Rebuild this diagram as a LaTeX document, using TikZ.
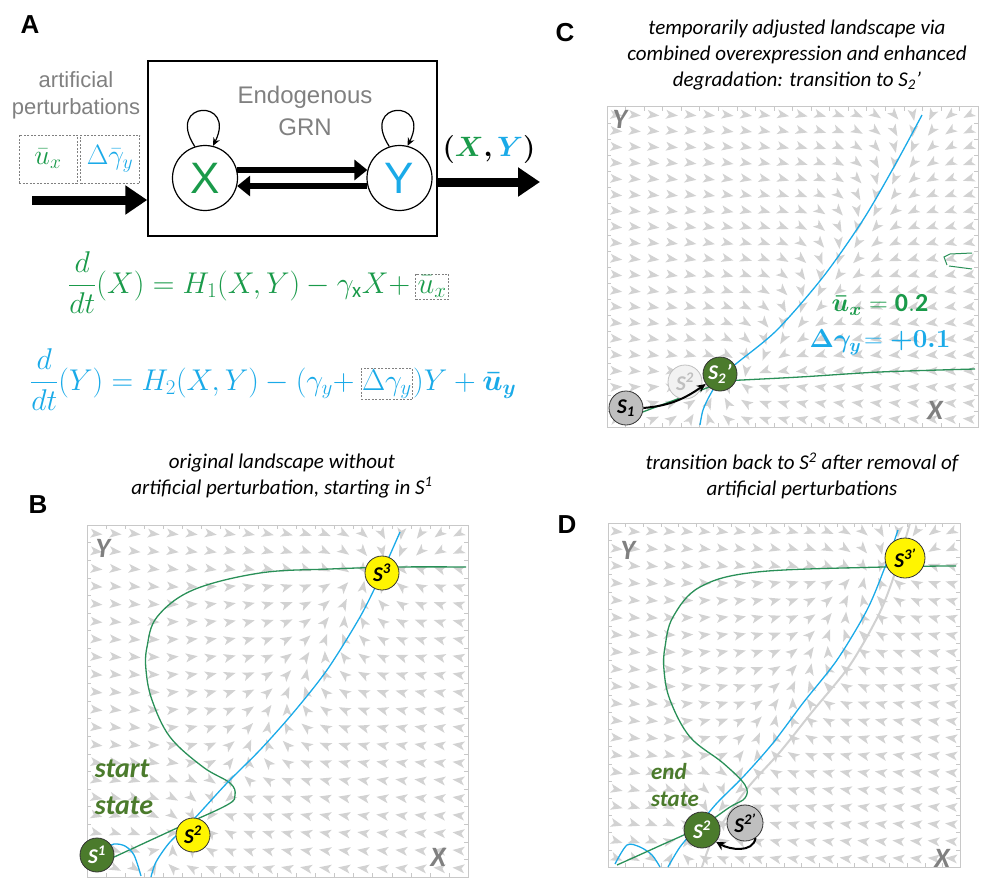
\documentclass[tikz,border=0pt]{standalone}
\usepackage{fix-cm}
\usepackage{amsmath}
\usepackage{fontspec}
\setmainfont{Carlito}
\setsansfont{Liberation Sans}
\usetikzlibrary{arrows.meta}
\definecolor{cgreen}{HTML}{1A9A4A}
\definecolor{cblue}{HTML}{1AAAE8}
\definecolor{cnull}{HTML}{2A9058}
\definecolor{cdark}{HTML}{4B7B2C}
\definecolor{cgrey}{HTML}{808080}
\definecolor{cfield}{HTML}{D2D2D2}
\definecolor{cframe}{HTML}{C8C8C8}
\definecolor{cyellow}{HTML}{FFF500}
\newcommand{\fsz}[1]{\fontsize{#1}{#1}\selectfont}
\tikzset{
  every picture/.style={x=1pt, y=-1pt},
  letter/.style={font=\sffamily\bfseries\fsz{26}},
  capt/.style={font=\itshape\fontsize{21}{26}\selectfont, align=center},
  gene/.style={circle, draw, line width=1.2pt, minimum size=65pt, inner sep=0pt, font=\sffamily\fsz{44}},
  dbox/.style={draw=cgrey, line width=0.6pt, dash pattern=on 2pt off 1.5pt, inner sep=2pt},
  eqn/.style={anchor=base west, inner sep=0pt, font=\fsz{30}},
  bigarrow/.style={line width=9pt, -{Triangle[length=22pt, width=28pt]}},
  midarrow/.style={line width=6pt, -{Triangle[length=13pt, width=20pt]}},
  nullx/.style={draw=cnull, line width=1.3pt},
  nully/.style={draw=cblue, line width=1.3pt},
  stnode/.style={circle, draw=black!80, line width=0.8pt, inner sep=0pt, minimum size=#1, font=\bfseries\itshape\fsz{21}},
  stnode/.default=34pt,
  axlbl/.style={text=cgrey, font=\bfseries\itshape\fsz{28}},
  plotframe/.style={draw=cframe, line width=1pt},
}
% light arrow field, #1,#2 top left, #3 width, #4 height, #5 0 = original, 1 = adjusted
\newcommand{\vecfield}[5]{%
  \foreach \i in {0,...,19}{
    \foreach \j in {0,...,19}{
      \pgfmathsetmacro{\fu}{(\i+0.5)/20}
      \pgfmathsetmacro{\fv}{1-(\j+0.5)/20}
      \ifnum#5=0
        \pgfmathsetmacro{\fx}{0.16+0.85*\fv-0.18*\fv*\fv-\fu}
        \pgfmathsetmacro{\dd}{\fu-(\fv<0.885 ? 0.155+0.23*max(0,1-((\fv-0.23)/0.12)^2)+0.01/(0.89-\fv) : 10)}
      \else
        \pgfmathsetmacro{\fx}{0.24+0.78*\fv-0.17*\fv*\fv-\fu}
        \pgfmathsetmacro{\dd}{0.14+0.04*\fu-\fv}
      \fi
      \pgfmathsetmacro{\ang}{atan2(0.08*\dd/(0.05+abs(\dd)),\fx)}
      \pgfmathsetmacro{\px}{#1+\fu*#3}
      \pgfmathsetmacro{\py}{#2+(1-\fv)*#4}
      \fill[cfield, shift={(\px,\py)}, rotate=\ang]
        (6,0) -- (-6,4.5) -- (-3,0) -- (-6,-4.5) -- cycle;
    }
  }
}
% frame with small ticks
\newcommand{\plotbox}[4]{%
  \draw[plotframe] (#1,#2) rectangle ++(#3,#4);
  \foreach \k in {1,...,19}{
    \draw[cframe, line width=0.6pt] ({#1+\k*#3/20},#2) -- ++(0,4);
    \draw[cframe, line width=0.6pt] ({#1+\k*#3/20},{#2+#4}) -- ++(0,-4);
    \draw[cframe, line width=0.6pt] (#1,{#2+\k*#4/20}) -- ++(4,0);
    \draw[cframe, line width=0.6pt] ({#1+#3},{#2+\k*#4/20}) -- ++(-4,0);
  }
}

\begin{document}
\begin{tikzpicture}
  \useasboundingbox (0,0) rectangle (985,880);
  % ---- A: the network with its inputs ----
  \node[letter] (la) at (30,25) {A};
  \node[draw, line width=1.5pt, minimum width=289pt, minimum height=175pt] (grn) at (292.5,148.5) {};
  \node[text=cgrey, font=\sffamily\fontsize{24}{32}\selectfont, align=center] (endo) at (305,111) {Endogenous\\GRN};
  \node[gene, text=cgreen] (x) at (205,178) {X};
  \node[gene, text=cblue] (y) at (399.5,178) {Y};
  \draw[line width=1.2pt, -{Stealth[length=8pt, width=7pt]}] (x.108) .. controls +(-30,-46) and +(24,-48) .. (x.76);
  \draw[line width=1.2pt, -{Stealth[length=8pt, width=7pt]}] (y.108) .. controls +(-30,-46) and +(24,-48) .. (y.76);
  \draw[midarrow] (x.14) -- (y.166);
  \draw[midarrow] (y.194) -- (x.-14);
  \node[text=cgrey, inner sep=0pt, font=\sffamily\fontsize{22}{27}\selectfont, align=center] (pert) at (76,95.5) {artificial\\perturbations};
  \node[dbox, text=cgreen, font=\fsz{28}, minimum width=58pt, minimum height=48pt] (ubox) at (48,159) {$\bar{u}_x$};
  \node[dbox, text=cblue, font=\fsz{28}, minimum width=59pt, minimum height=48pt] (gbox) at (110,159) {$\Delta\bar{\gamma}_y$};
  \coordinate (inp) at (32,200);
  \draw[bigarrow] (inp) -- (inp -| grn.west);
  \coordinate (outp) at (540,182);
  \draw[bigarrow] (outp -| grn.east) -- (outp);
  \node[font=\fsz{28}] (xy) at (489,150) {$\boldsymbol{(}\textcolor{cgreen}{\boldsymbol{X}}\boldsymbol{,}\,\textcolor{cblue}{\boldsymbol{Y}}\boldsymbol{)}$};
  % equations
  \node[eqn, text=cgreen] (eqx) at (68,293) {$\dfrac{d}{dt}(X) = H_1(X,Y) - \gamma_{\mathrm{x}}X +$};
  \node[dbox, eqn, inner sep=2pt, text=cgreen] (equx) at ([xshift=5pt]eqx.base east) {$\bar{u}_x$};
  \node[eqn, text=cblue] (eqy) at (30,390) {$\dfrac{d}{dt}(Y) = H_2(X,Y) - (\gamma_y +$};
  \node[dbox, eqn, inner sep=1pt, text=cblue] (eqyg) at ([xshift=6pt]eqy.base east) {$\Delta\gamma_y$};
  \node[eqn, text=cblue] (eqyr) at (eqyg.base east) {$)Y + \boldsymbol{\bar{u}}_{\boldsymbol{y}}$};

  % ---- C: adjusted landscape ----
  \node[letter] (lc) at (565,33) {C};
  \node[capt] (capc) at (797,55) {temporarily adjusted landscape via\\combined overexpression and enhanced\\degradation: transition to \textit{S}\textsubscript{2}’};
  \vecfield{607}{107}{371}{320}{1}
  \plotbox{607}{107}{371}{320}
  \draw[nully] plot[smooth] coordinates {(922,115) (895,165) (863,220) (823,277) (777,330) (737,363) (722,376) (710,395) (703,410) (700,425)};
  \draw[nullx] plot[smooth] coordinates {(722,381) (800,377) (880,372) (975,369)};
  \draw[nullx] (640,413) -- (712,386);
  \draw[nullx, line width=1pt] (972,253) -- (950,254) -- (944,257) -- (947,265);
  \draw[nullx, line width=1pt] (949,266) -- (972,269);
  \node[axlbl] (cy) at (620,119) {Y};
  \node[axlbl] (cx) at (935,410) {X};
  \node[stnode, draw=black!25, fill=black!5, text=black!25] (c2) at (685,382) {S\textsuperscript{2}};
  \node[stnode, fill=black!25] (c1) at (626,408) {S\textsubscript{1}};
  \node[stnode, fill=cdark, text=white] (c2p) at (720,374) {S\textsubscript{2}’};
  \draw[line width=2pt, -{Stealth[length=9pt, width=8pt]}] (c1.east) to[out=5, in=215] (c2p.215);
  \node[text=cgreen, inner sep=0pt, font=\fsz{26}] (ux) at (880,305) {$\boldsymbol{\bar{u}_x} = \mathbf{0.2}$};
  \node[text=cblue, inner sep=0pt, font=\fsz{26}] (dg) at (880,342) {$\boldsymbol{\Delta\gamma_y}\!= \boldsymbol{+0.1}$};

  % ---- B: original landscape ----
  \node[letter] (lb) at (38,505) {B};
  \node[capt] (capb) at (282,476) {original landscape without\\artificial perturbation, starting in \textit{S}\textsuperscript{1}};
  \vecfield{87}{525}{381}{352}{0}
  \plotbox{87}{525}{381}{352}
  \draw[nullx] plot[smooth, tension=0.6] coordinates {(466,567) (400,567) (330,569) (260,573) (193,590) (157,617) (147,647) (146,670) (152,700) (170,737) (203,767) (230,783) (235,795) (227,805) (177,828) (112,858)};
  \draw[nully] plot[smooth] coordinates {(400,532) (380,577) (360,617) (327,670) (293,713) (260,750) (227,783) (193,820) (170,842) (156,862) (151,877)};
  \draw[nully] plot[smooth] coordinates {(104,849) (114,844) (125,846) (134,855) (141,876)};
  \node[axlbl] (by) at (103,548) {Y};
  \node[axlbl] (bx) at (438,857) {X};
  \node[text=cdark, font=\bfseries\itshape\fontsize{28}{37}\selectfont, align=left] (bstart) at (124,787) {start\\state};
  \node[stnode, fill=cdark, text=white] (b1) at (97,855) {S\textsuperscript{1}};
  \node[stnode, fill=cyellow] (b2) at (193,835) {S\textsuperscript{2}};
  \node[stnode, fill=cyellow] (b3) at (382,573) {S\textsuperscript{3}};

  % ---- D: back to the original landscape ----
  \node[letter] (ld) at (567,525) {D};
  \node[capt] (capd) at (802,476) {transition back to \textit{S}\textsuperscript{2} after removal of\\artificial perturbations};
  \vecfield{608}{523}{352}{344}{0}
  \plotbox{608}{523}{352}{344}
  \draw[draw=black!18, line width=2pt] plot[smooth] coordinates {(910,523) (897,567) (880,612) (850,665) (812,712) (780,752) (750,785) (728,815) (712,840) (702,867)};
  \draw[nully] plot[smooth] coordinates {(898,530) (885,567) (867,610) (837,660) (803,703) (773,743) (743,777) (717,803) (697,827) (680,847) (668,867)};
  \draw[nully] plot[smooth] coordinates {(615,864) (627,845) (640,847) (652,855) (660,867)};
  \draw[nullx] plot[smooth, tension=0.6] coordinates {(956,566) (883,567) (757,572) (700,587) (673,617) (665,647) (664,670) (670,700) (690,737) (723,763) (745,785) (745,798) (730,807) (700,827) (657,847) (617,865)};
  \node[axlbl] (dy) at (628,550) {Y};
  \node[axlbl] (dx) at (942,858) {X};
  \node[text=cdark, font=\bfseries\itshape\fontsize{23}{27}\selectfont, align=left] (dend) at (675,785) {end\\state};
  \node[stnode=40pt, fill=cyellow] (d3p) at (905,558) {S\textsuperscript{3’}};
  \node[stnode=36pt, fill=cdark, text=white] (d2) at (702,830) {S\textsuperscript{2}};
  \node[stnode=36pt, fill=black!25] (d2p) at (745,823) {S\textsuperscript{2’}};
  \draw[line width=2pt, -{Stealth[length=9pt, width=9pt]}] (d2p.-55) to[out=-100, in=-30] (d2.-40);
\end{tikzpicture}
\end{document}
